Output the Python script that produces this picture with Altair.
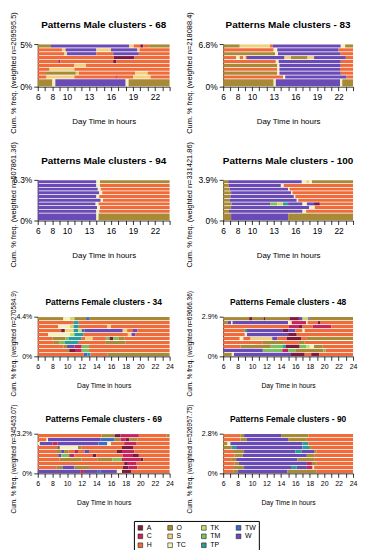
import re
import altair as alt
import pandas as pd

FONT = "Liberation Sans"

STATES = ["A", "C", "H", "O", "S", "TC", "TK", "TM", "TP", "TW", "W"]
STATE_COLORS = ["#7F1A3C", "#C8235A", "#EF6B3A", "#A88A36", "#F3CF80", "#F5F0C0",
                "#C8DA6A", "#7CBF5C", "#2A9C9A", "#3C6DC2", "#6A4BB5"]
LEGEND_ORDER = ["A", "O", "TK", "TW", "C", "S", "TM", "W", "H", "TC", "TP"]

TITLES = ["Patterns Male clusters - 68", "Patterns Male clusters - 83",
          "Patterns Male clusters - 94", "Patterns Male clusters - 100",
          "Patterns Female clusters - 34", "Patterns Female clusters - 48",
          "Patterns Female clusters - 69", "Patterns Female clusters - 90"]
WEIGHTED_N = ["209595.5", "218088.4", "507861.36", "331421.86",
              "270584.9", "69666.36", "345453.07", "526957.75"]
TOP_PCT = ["5%", "6.8%", "6.3%", "3.9%", "4.4%", "2.9%", "3.2%", "2.8%"]
HOURS = list(range(6, 25))
MALE_XLABELS = [6, 8, 10, 13, 16, 19, 22]
FEMALE_XLABELS = [6, 8, 10, 12, 14, 16, 18, 20, 22, 24]

# each row: state + start hour, listed from top row to bottom row
M68 = ["O6 W7.8 S18.5 H19.1 A20 H20.4 O21.2",
       "H6 S9.3 W9.8 S14 W16 S19.6 H19.9",
       "H6 S9.6 W10 H14 W16.3 H19.8",
       "H6 A16.4 H19.2",
       "H6 C8.8 H9.1 A16.3 H16.7",
       "H6 S11 H12.6",
       "H6 S7.6 H11",
       "H6 O7 TK11.2 H11.6 S19.3 H21",
       "H6 S7.2 H11 C16.6 H16.8 S19 H21.4",
       "O6 TC8 W8.4 TC18 O18.4"]
M68_W = [1, 1, 1, 1, 1, 1, 1, 1, 1, 2]

M83 = ["O6 S8.3 H12.5 W12.9 TC22.3 O22.9",
       "H6 TC13 W13.5 H22",
       "O6 TC13.2 W13.6 H22.2",
       "H6 TC7.8 H8.3 TC8.8 H9.1 W9.3 S14.5 O15.4 S17.7 W18.6 H23",
       "H6 TC13.3 W13.7 H22.3",
       "O6 TC13.5 W13.8 H22.3",
       "H6 TC13.5 W13.8 H22.2",
       "O6 TC13.5 W13.8 H22.3",
       "H6 TC14.3 W14.6 H23.1",
       "O6 TC13 W13.3 TC22.2 O22.5"]
M83_W = [1, 1, 1, 1, 1, 1, 1, 1, 1, 2]

M94 = ["W6 TC14 O14.5",
       "W6 TC14 H14.5",
       "W6 TC14.2 H14.6",
       "W6 TC14.4 H14.8",
       "W6 TC14 H14.4",
       "W6 TC14.6 H14.9",
       "W6 TC13.9 H14.3",
       "W6 TC14.1 H14.5",
       "W6 TC14 H14.4",
       "W6 TC14 O14.3"]
M94_W = [1, 1, 1, 1, 1, 1, 1, 1, 1, 2]

M100 = ["O6 W6.7 TC16.9 S17.5 TC17.9 O18.3",
        "O6 W6.8 TC14 H14.4",
        "O6 W6.9 TC15 H15.2",
        "O6 W7.1 TC15.4 H15.6",
        "O6 W7 TC15.8 H16",
        "O6 W6.9 TC16.2 H16.4",
        "O6 W7.2 TM12.5 TK13.5 TP14.3 W15 TC17 W17.6 A18.6 H19.4",
        "O6 W7.1 TC17.9 H18.7",
        "O6 W6.8 TC17 H17.5",
        "O6 W7.1 O15"]
M100_W = [1, 1, 1, 1, 1, 1, 1, 1, 1, 2]

F34 = ["O6 TC9.5 TK10.4 O11 TW12.6 O13",
       "H6 TP10.9 H11.6",
       "H6 TC8.8 TK10.4 TP10.9 H11.6 S15.5 H16",
       "H6 A9.2 S9.7 TP10.9 TK11.5 TW12 W12.4 S17.6 H18.2 W19 H19.6",
       "H6 TC7.4 TK10.4 TP11 H12.2 S18.3 W18.8 H19.3",
       "H6 O8 TM9.8 TP10.2 H12 S12.5 H13.5 TM15.3 A15.8 TM16.3 O17 H17.8",
       "H6 O8.2 TM9 TP9.7 H11.6 O15.3 H18",
       "H6 O9.5 W10 C11 TM12 H13",
       "H6 O10 A10.3 C11.2 TM12 H13",
       "H6 TW12.3 TP12.8 H13.2 O15.5"]
F34_W = [1, 1, 1, 1, 1, 1, 1, 1, 1, 1]

F48 = ["O6 A9.6 O10 A11.6 O11.8 A15.2 W16.5 TK17 W17.8 O18",
       "O6 W6.6 TC7.1 W7.3 TC15 C15.5 TC17.5 H17.7 A19.1 H19.5",
       "H6 C15.1 A16.5 H17 C18.4 H21",
       "H6 TP9 W9.3 A14.2 W15 H16 TC17 H17.3",
       "H6 TC9 W9.3 A15 H16.2",
       "H6 TC8.3 H8.8 S9.8 W12.8 H13.5 A14.8 H16.8 O17.6",
       "H6 O11.5 H14.3 O16.5 H17.3",
       "H6 O8.4 TM12.6 TP14.3 A14.7 TM16.6 TK17.5 TC18 O18.6 H19.8",
       "W6 TM11.5 C14.2 TM15 O16 TM19.9 H20.2",
       "O6 TC7.2 W7.5 A15.4 H17.3 A18.2 H19.3"]
F48_W = [1, 1, 1, 1, 1, 1, 1, 1, 1, 1]

F69 = ["H6 O14.7 A16.5 C17.3 H19.8 O23.6",
       "H6 TC7.2 W7.4 TW14.6 O16.5 C17.3 A18 O18.5 H19.6",
       "TC6 W6.3 C8 W8.7 TW14.3 TC15.5 H16 C17.8 H19.5",
       "H6 O8.5 A8.8 TC9 O11.5 H12 A17.5 H19",
       "H6 O8.5 W9.2 O9.6 H10.2 C11 H11.5 W12.4 H13 A16.8 C17.5 H19.2",
       "H6 W8.8 TM9.2 C10.3 H11 A13.5 H14 C17.6 A19 H19.8",
       "H6 O9 H12 O14.2 TM16.2 C17.5 A20 H20.4",
       "H6 A17.8 C18.3 H19.5",
       "H6 O8.6 W9.4 O11 H13 A17.6 C18.4 H19.6",
       "W6 C11.8 W12.3 TW14.2 W14.6 TC16.8 A17.5 H18.8"]
F69_W = [1, 1, 1, 1, 1, 1, 1, 1, 1, 1]

F90 = ["H6 O8.4 W8.9 O14.1 H17.8",
       "H6 O8.4 W9.3 O15 H17.6",
       "O6 TC6.6 W7 TP17 H17.8",
       "O6 TP7.2 W7.8 TP17 O17.9 H18.3",
       "H6 O7.5 W8.9 TP16 W16.9 O18.6 H18.9",
       "H6 O7.6 W8.7 O17.6 H18.7",
       "H6 O7.1 W7.8 O16.3 H18.7",
       "H6 O7.6 W8.2 C17.6 O18.3 H18.9",
       "H6 O7.5 W8.9 TP15.4 W16.2 C17.6 TC18.4 H18.6",
       "H6 O7.4 W8 O14.9 H18.9"]
F90_W = [1, 1, 1, 1, 1, 1, 1, 1, 1, 1]

GAP = 0.1
color_map = dict(zip(STATES, STATE_COLORS))
COLOR_RANGE = [color_map[s] for s in LEGEND_ORDER]

LEG = alt.Legend(title=None, orient="none", legendX=97, legendY=481,
                 direction="horizontal", columns=4, symbolType="square",
                 symbolSize=22, symbolStrokeColor="#222222", symbolStrokeWidth=0.6,
                 labelFont=FONT, labelFontSize=7, labelColor="black", labelOffset=3,
                 columnPadding=13, rowPadding=0, padding=3,
                 strokeColor="black", fillColor="white", values=LEGEND_ORDER)


def panel(idx, rows, weights, width, height, female, ytx):
    recs = []
    total = float(sum(weights))
    cum = total
    for r, w in zip(rows, weights):
        top, bottom = cum, cum - w
        cum = bottom
        segs = re.findall(r"([A-Z]+)([0-9.]+)", r)
        for k, (s, st) in enumerate(segs):
            end = float(segs[k + 1][1]) if k + 1 < len(segs) else 24.0
            recs.append({"state": s, "start": float(st), "end": end,
                         "y0": bottom + GAP, "y1": top - GAP})
    df = pd.DataFrame(recs)
    xl = FEMALE_XLABELS if female else MALE_XLABELS
    lab_fs = 7 if female else 8.5
    xtitle_fs = 6.8 if female else 8
    ytitle_fs = 6.5 if female else 7.5
    xaxis = alt.Axis(values=HOURS,
                     labelExpr="indexof(" + str(xl) + ", datum.value) >= 0 ? datum.label : ''",
                     labelOverlap=False, labelFlush=False, labelFontSize=lab_fs,
                     labelPadding=2, tickSize=4, grid=False,
                     title="Day Time in hours", titleFontSize=xtitle_fs,
                     titleFontWeight="normal", titleY=29.5 if female else 35,
                     titleBaseline="middle")
    yaxis = alt.Axis(values=[0, total],
                     labelExpr="datum.value == 0 ? '0%' : '" + TOP_PCT[idx] + "'",
                     labelFontSize=lab_fs, labelPadding=2, tickSize=4, grid=False,
                     title="Cum. % freq. (weighted n=" + WEIGHTED_N[idx] + ")",
                     titleFontSize=ytitle_fs, titleFontWeight="normal",
                     titleAngle=270, titleAlign="left", titleBaseline="middle",
                     titleX=ytx, titleY=height + (40 if female else 47))
    bars = alt.Chart(df).mark_bar().encode(
        x=alt.X("start:Q", scale=alt.Scale(domain=[6, 24], nice=False, zero=False), axis=xaxis),
        x2="end:Q",
        y=alt.Y("y0:Q", scale=alt.Scale(domain=[0, total], nice=False, zero=False), axis=yaxis),
        y2="y1:Q",
        color=alt.Color("state:N", scale=alt.Scale(domain=LEGEND_ORDER, range=COLOR_RANGE), legend=LEG),
    )
    head = alt.Chart(pd.DataFrame({"t": [TITLES[idx]]})).mark_text(
        font=FONT, fontSize=8.5 if female else 10, fontWeight="bold", color="black",
        align="center", baseline="alphabetic",
    ).encode(text="t:N", x=alt.value(width / 2), y=alt.value(-12 if female else -16))
    return alt.layer(bars, head).properties(width=width, height=height)


def spacer(h):
    return alt.Chart(pd.DataFrame({"v": [0]})).mark_point(opacity=0).encode(
        x=alt.value(0), y=alt.value(0)).properties(width=1, height=h)


W1, W2 = 133, 131
p68 = panel(0, M68, M68_W, W1, 43, False, -24.5)
p83 = panel(1, M83, M83_W, W2, 43, False, -34)
p94 = panel(2, M94, M94_W, W1, 41, False, -24.5)
p100 = panel(3, M100, M100_W, W2, 41, False, -34)
p34 = panel(4, F34, F34_W, W1, 40, True, -24.5)
p48 = panel(5, F48, F48_W, W2, 40, True, -34)
p69 = panel(6, F69, F69_W, W1, 40, True, -24.5)
p90 = panel(7, F90, F90_W, W2, 40, True, -34)

cells = [p68, p83, spacer(94), spacer(94),
         p94, p100, spacer(97), spacer(97),
         p34, p48, spacer(78), spacer(78),
         p69, p90]

chart = alt.concat(
    *cells, columns=2, spacing={"row": 0, "column": 54}, bounds="flush", align="each",
).properties(
    padding={"left": 0, "top": 0, "right": 0, "bottom": 0}
).configure_view(stroke="transparent").configure_axis(
    domainColor="black", tickColor="black", labelColor="black", titleColor="black",
    labelFont=FONT, titleFont=FONT, domainWidth=0.8, tickWidth=0.8
).configure_title(font=FONT)

chart.save("out.html", embed_options={"renderer": "svg", "actions": False})
